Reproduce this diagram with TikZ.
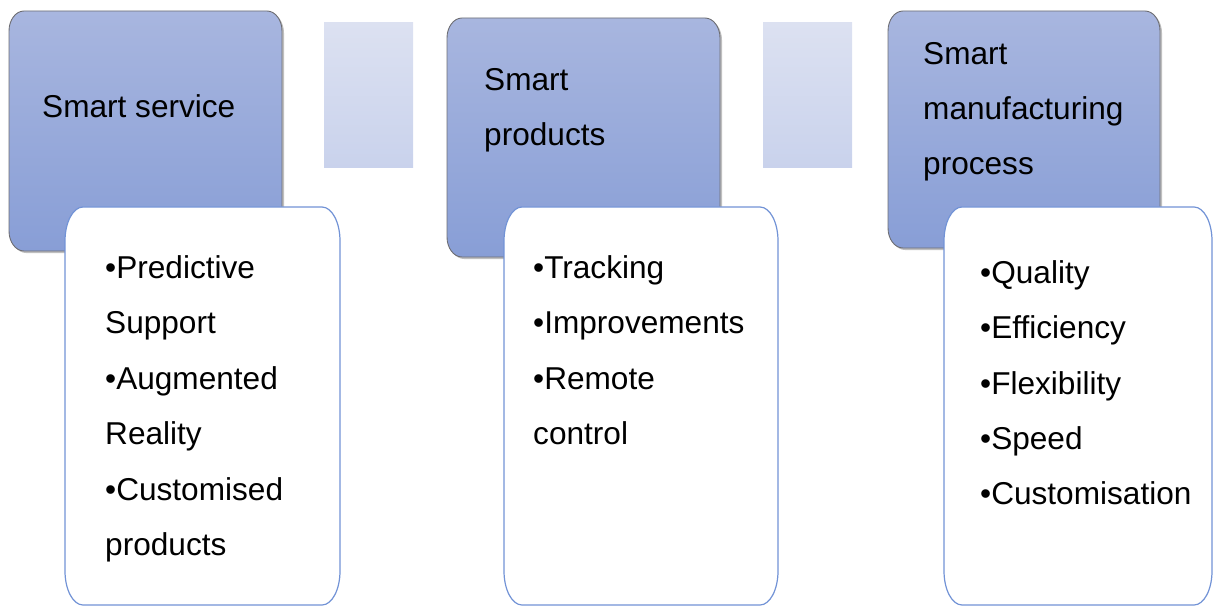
\documentclass[tikz,border=0pt]{standalone}
\usepackage{fontspec}
\setmainfont{Liberation Sans}
\definecolor{bluetop}{RGB}{168,182,223}
\definecolor{bluebot}{RGB}{136,158,214}
\definecolor{bluedraw}{RGB}{110,110,115}
\definecolor{lighttop}{RGB}{220,225,241}
\definecolor{lightbot}{RGB}{201,210,236}
\definecolor{wdraw}{RGB}{114,147,214}
\newcommand{\rbox}[7][]{%
  \path[#1] (#2,#3+#7) -- (#2,#5-#7)
    arc[start angle=180,end angle=90,x radius=#6,y radius=#7]
    -- (#4-#6,#5)
    arc[start angle=90,end angle=0,x radius=#6,y radius=#7]
    -- (#4,#3+#7)
    arc[start angle=0,end angle=-90,x radius=#6,y radius=#7]
    -- (#2+#6,#3)
    arc[start angle=-90,end angle=-180,x radius=#6,y radius=#7]
    -- cycle;}
\tikzset{
  headbox/.style={top color=bluetop, bottom color=bluebot, draw=bluedraw, line width=0.9pt},
  shadowbox/.style={fill=black, opacity=0.25},
  listbox/.style={fill=white, draw=wdraw, line width=1.2pt},
  linkbox/.style={top color=lighttop, bottom color=lightbot},
  txt/.style={anchor=base west, inner sep=0pt, font=\fontsize{31.6}{37}\selectfont, text=black}
}
\begin{document}
\begin{tikzpicture}[x=1pt,y=1pt]
\useasboundingbox (0,0) rectangle (1214,606);
% link rectangles
\path[linkbox] (324,438) rectangle (413,583);
\path[linkbox] (763,438) rectangle (852,583);
% header boxes with shadows
\rbox[shadowbox]{11}{353}{284}{593}{15}{20}
\rbox[headbox]{9}{355}{282}{595}{15}{20}
\rbox[shadowbox]{449}{347}{722}{586}{15}{20}
\rbox[headbox]{447}{349}{720}{588}{15}{20}
\rbox[shadowbox]{890}{356}{1162}{593}{15}{20}
\rbox[headbox]{888}{358}{1160}{595}{15}{20}
% list boxes
\rbox[listbox]{65}{1}{340}{399}{18}{34}
\rbox[listbox]{504}{1}{778}{399}{18}{34}
\rbox[listbox]{944}{1}{1212}{399}{18}{34}
% header texts
\node[txt] (h1) at (42,488) {Smart service};
\node[txt] (h2a) at (484,515) {Smart};
\node[txt] (h2b) at (484,460) {products};
\node[txt] (h3a) at (923,541) {Smart};
\node[txt] (h3b) at (923,486) {manufacturing};
\node[txt] (h3c) at (923,431) {process};
% list 1
\node[txt] (l1a) at (105,328) {•Predictive};
\node[txt] (l1b) at (105,273) {Support};
\node[txt] (l1c) at (105,217) {•Augmented};
\node[txt] (l1d) at (105,162) {Reality};
\node[txt] (l1e) at (105,106) {•Customised};
\node[txt] (l1f) at (105,51) {products};
% list 2
\node[txt] (l2a) at (533,328) {•Tracking};
\node[txt] (l2b) at (533,273) {•Improvements};
\node[txt] (l2c) at (533,217) {•Remote};
\node[txt] (l2d) at (533,162) {control};
% list 3
\node[txt] (l3a) at (980,323) {•Quality};
\node[txt] (l3b) at (980,268) {•Efficiency};
\node[txt] (l3c) at (980,212) {•Flexibility};
\node[txt] (l3d) at (980,157) {•Speed};
\node[txt] (l3e) at (980,102) {•Customisation};
\end{tikzpicture}
\end{document}
